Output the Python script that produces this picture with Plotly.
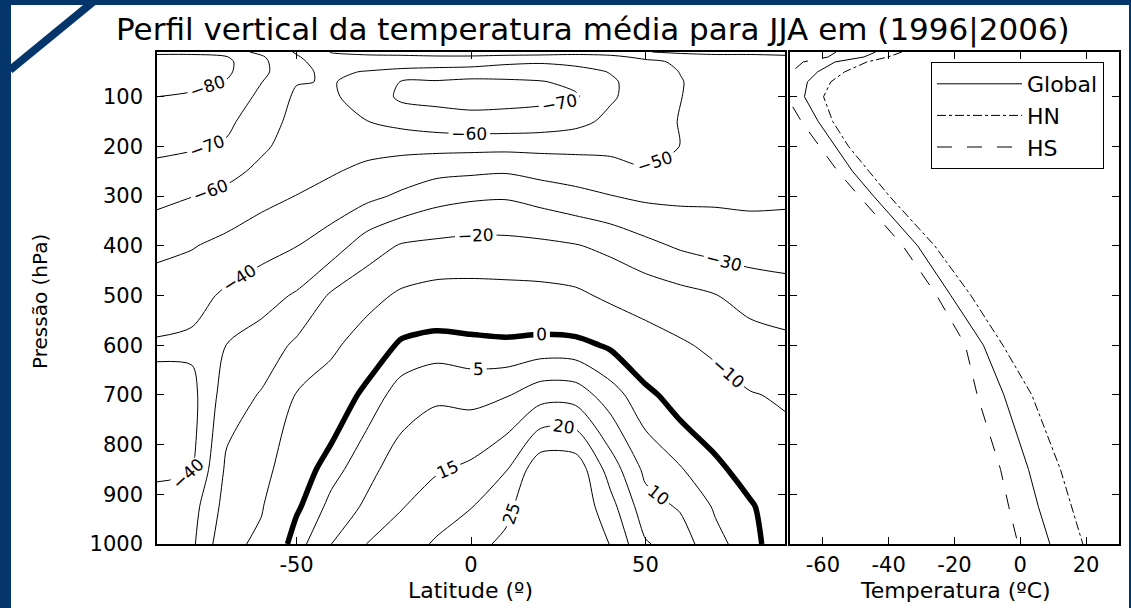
import plotly.graph_objects as go

FONT = "DejaVu Sans"
NAVY = "#04366b"

# ---------------- data ----------------
lats = [-90, -80, -70, -60, -50, -40, -30, -20, -10, 0, 10, 20, 30, 40, 50, 60, 70, 80, 90]
pres = [10, 20, 30, 50, 70, 100, 150, 200, 250, 300, 400, 500, 600, 700, 850, 925, 1000]

# zonal-mean temperature (degC) per latitude column, from 10 hPa down to 1000 hPa
t_s90 = [-77, -83, -84, -84, -83, -80, -76, -72, -67.7, -62.8, -52.6, -45, -39, -42, -41, -38, -36]
t_s80 = [-77, -83, -83.5, -83.5, -82, -79, -75.5, -71, -65.8, -60.2, -50.6, -43.5, -38, -43, -41, -34, -32]
t_s70 = [-74, -80.5, -82, -81.5, -79.5, -77, -72, -68.8, -62.8, -57.5, -47.2, -38.3, -29.8, -24.8, -18, -16, -12]
t_s60 = [-68, -71, -72, -72.5, -70.2, -67.5, -64.5, -61.5, -57.8, -53, -43.8, -33.8, -25.6, -19.2, -13, -10.5, -8.5]
t_s50 = [-59, -61, -62, -61.5, -60.5, -58.5, -57, -56, -53.5, -49.8, -40.2, -28.9, -18.2, -9.5, -3.9, -1, 3]
t_s40 = [-49.5, -52.5, -55, -58.5, -59.5, -59, -57.5, -54.5, -51, -46.2, -35, -18.6, -11.7, -5.6, 3, 6.7, 10]
t_s30 = [-48, -51.5, -55, -60.5, -62.5, -63, -59.8, -53.5, -47.5, -42.6, -25, -13.2, -5.7, 1.9, 8.4, 10.8, 15]
t_s20 = [-47, -51.5, -56, -62, -70.5, -72, -63, -52.7, -45.3, -38.3, -19.1, -8.5, 1.25, 7.3, 12.6, 14.7, 17.5]
t_s10 = [-46, -51, -56, -63, -71, -73, -65.5, -52.9, -42.7, -33.6, -17.75, -6.4, 2.6, 9.2, 14.5, 17.5, 20.6]
t_eq = [-46, -51, -56, -64, -72.5, -73.5, -67, -52.75, -41.7, -31.6, -16.9, -6.4, 1.8, 8.5, 16, 19.8, 23.5]
t_n10 = [-47, -51.5, -58, -65.5, -71.5, -73, -66.8, -52.6, -40.9, -31, -17.1, -6.7, 1.3, 9.6, 19.7, 23.7, 26]
t_n20 = [-47, -52, -59, -65.5, -70.5, -72.5, -65.8, -52.6, -43.4, -33.75, -17.8, -7, 2, 13, 28.6, 29.5, 29.8]
t_n30 = [-48, -52, -57, -64, -68, -71, -63, -52.5, -44.9, -36.9, -19.4, -8.1, 1.7, 12.8, 28.3, 29, 29.5]
t_n40 = [-47, -51.5, -55, -59.5, -61.5, -61.3, -57.5, -52.3, -46.6, -39.7, -22.4, -11.9, -0.8, 7.3, 17.7, 21.8, 24.8]
t_n50 = [-40.5, -48.5, -51.5, -54, -55, -55, -54, -53, -49.2, -41.9, -27.3, -14.2, -5.8, 1.6, 8.8, 12, 15.5]
t_n60 = [-38, -45, -49, -49.8, -50.4, -50.2, -49.6, -49.9, -46.1, -42.2, -31.3, -16.9, -8.8, -2.8, 5.4, 9.5, 12.5]
t_n70 = [-37, -43, -45, -46, -46.5, -46.5, -46, -45.5, -44, -41.8, -33.8, -19.6, -12, -6, 1.5, 4.4, 6.5]
t_n80 = [-37, -43, -45, -45.5, -45.5, -45.5, -45, -45, -44, -42.2, -34.9, -23.8, -15.7, -9.5, -2.7, 0.7, 2.5]
t_n90 = [-36, -42, -44.5, -45, -45, -45, -44.5, -44, -43, -41.7, -35.3, -25.8, -17.4, -11, -6.5, -4, -5]

# mean profiles (degC) at the same pressure levels
prof_global = [-44, -47.5, -56.3, -61.6, -64.7, -65.6, -61.4, -56.2, -51, -44.6, -31.2, -21.1, -11.2, -5, 2.5, 5.5, 9]
prof_hn = [-36, -40.2, -46.6, -53.4, -57.6, -59.8, -57, -52.2, -46, -39.8, -26, -15, -5.3, 3.5, 12.2, 15.7, 19]
prof_hs = [-56, -58.4, -66, -69.5, -72, -71, -66.5, -61.1, -55.5, -49, -35.7, -25.4, -16.7, -13.1, -6, -3.5, -0.7]

x_ticks_left = [-50, 0, 50]
x_labels_left = ["-50", "0", "50"]
x_ticks_right = [-60, -40, -20, 0, 20]
x_labels_right = ["-60", "-40", "-20", "0", "20"]
y_ticks = [100, 200, 300, 400, 500, 600, 700, 800, 900, 1000]
y_labels = ["100", "200", "300", "400", "500", "600", "700", "800", "900", "1000"]

title_text = "Perfil vertical da temperatura média para JJA em (1996|2006)"

# ---------------- figure ----------------
columns = [t_s90, t_s80, t_s70, t_s60, t_s50, t_s40, t_s30, t_s20, t_s10, t_eq,
           t_n10, t_n20, t_n30, t_n40, t_n50, t_n60, t_n70, t_n80, t_n90]
z = [[col[i] for col in columns] for i in range(len(pres))]

W, H = 1131, 608
def px_x(v):
    return v / W
def px_y(v):
    return (H - v) / H

black_scale = [[0, "black"], [1, "black"]]
lab_font = dict(family=FONT, size=17, color="black")

def contour_trace(start, end, size, width):
    return go.Contour(x=lats, y=pres, z=z, showscale=False,
                      colorscale=black_scale, autocontour=False,
                      contours=dict(coloring="lines", start=start, end=end, size=size,
                                    showlabels=True, labelfont=lab_font),
                      line=dict(width=width, smoothing=0.8), hoverinfo="skip", showlegend=False,
                      xaxis="x", yaxis="y")

fig = go.Figure()
fig.add_trace(contour_trace(-80, -10, 10, 1))
fig.add_trace(contour_trace(5, 25, 5, 1))
fig.add_trace(contour_trace(0, 0, 10, 5.5))

fig.add_trace(go.Scatter(x=prof_global, y=pres, mode="lines", name="Global",
                         line=dict(color="black", width=1), xaxis="x2", yaxis="y2"))
fig.add_trace(go.Scatter(x=prof_hn, y=pres, mode="lines", name="HN",
                         line=dict(color="black", width=1, dash="dashdot"), xaxis="x2", yaxis="y2"))
fig.add_trace(go.Scatter(x=prof_hs, y=pres, mode="lines", name="HS",
                         line=dict(color="black", width=1, dash="longdash"), xaxis="x2", yaxis="y2"))

tick_font = dict(family=FONT, size=21, color="black")
ax_common = dict(ticks="inside", ticklen=7, tickwidth=1, tickcolor="black", mirror="allticks",
                 showline=True, linecolor="black", linewidth=1.5, showgrid=False, zeroline=False,
                 tickfont=tick_font, automargin=False)

y_dom = [px_y(544), px_y(52)]
fig.update_layout(
    width=W, height=H,
    margin=dict(l=0, r=0, t=0, b=0, autoexpand=False),
    paper_bgcolor="white", plot_bgcolor="white",
    font=dict(family=FONT, color="black"),
    xaxis=dict(domain=[px_x(157), px_x(785)], range=[-90, 90], tickvals=x_ticks_left,
               ticktext=x_labels_left, anchor="y", ticklabelstandoff=1, **ax_common),
    yaxis=dict(domain=y_dom, range=[1000, 10], tickvals=y_ticks, ticktext=y_labels, anchor="x",
               ticklabelstandoff=8, **ax_common),
    xaxis2=dict(domain=[px_x(790), px_x(1119)], range=[-70, 30], tickvals=x_ticks_right,
                ticktext=x_labels_right, anchor="y2", ticklabelstandoff=1, **ax_common),
    yaxis2=dict(domain=y_dom, range=[1000, 10], tickvals=y_ticks, anchor="x2",
                showticklabels=False, **ax_common),
    legend=dict(x=px_x(1104), xanchor="right", y=px_y(62), yanchor="top",
                bgcolor="white", bordercolor="black", borderwidth=1, itemwidth=85,
                font=dict(family=FONT, size=22, color="black"), tracegroupgap=0),
    showlegend=True,
)

fig.add_annotation(text=title_text, x=px_x(593), y=px_y(29), xref="paper", yref="paper",
                   xanchor="center", yanchor="middle", showarrow=False,
                   font=dict(family=FONT, size=31, color="black"))
fig.add_annotation(text="Latitude (º)", x=px_x(470), y=px_y(590), xref="paper", yref="paper",
                   xanchor="center", yanchor="middle", showarrow=False,
                   font=dict(family=FONT, size=22, color="black"))
fig.add_annotation(text="Temperatura (ºC)", x=px_x(955), y=px_y(590), xref="paper", yref="paper",
                   xanchor="center", yanchor="middle", showarrow=False,
                   font=dict(family=FONT, size=22, color="black"))
fig.add_annotation(text="Pressão (hPa)", x=px_x(40), y=px_y(302), xref="paper", yref="paper",
                   xanchor="center", yanchor="middle", showarrow=False, textangle=-90,
                   font=dict(family=FONT, size=20, color="black"))

# navy page frame
fig.add_shape(type="rect", xref="paper", yref="paper", x0=0, x1=px_x(11), y0=0, y1=1,
              fillcolor=NAVY, line=dict(width=0))
fig.add_shape(type="rect", xref="paper", yref="paper", x0=0, x1=1, y0=px_y(5), y1=1,
              fillcolor=NAVY, line=dict(width=0))
fig.add_shape(type="rect", xref="paper", yref="paper", x0=px_x(1129), x1=1, y0=0, y1=1,
              fillcolor=NAVY, line=dict(width=0))
fig.add_shape(type="line", xref="paper", yref="paper", x0=px_x(10), y0=px_y(70),
              x1=px_x(93), y1=px_y(2), line=dict(color=NAVY, width=8))

fig.write_html("out.html", config={"displayModeBar": False},
               post_script="document.body.style.margin='0';document.body.style.overflow='hidden';")
